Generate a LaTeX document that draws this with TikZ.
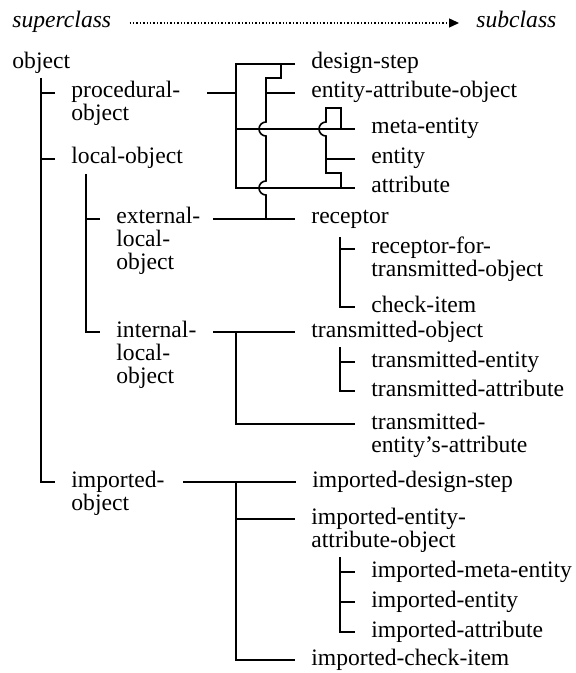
\documentclass[tikz,border=0pt]{standalone}
\usepackage{fontspec}
\setmainfont{Liberation Serif}
\usetikzlibrary{calc,arrows.meta}
\begin{document}
\begin{tikzpicture}[x=0.5pt,y=-0.5pt,
  lbl/.style={anchor=base west,inner sep=0pt,align=left,
              font=\fontsize{11.8}{11.5}\selectfont},
  ital/.style={lbl,font=\fontsize{11.8}{11.5}\selectfont\itshape},
  wire/.style={line width=0.8pt,line join=miter},
  hop/.style={start angle=90,end angle=270,radius=3.5pt}]
\useasboundingbox (0,0) rectangle (576,673);

% legend
\node[ital] (sup) at (12,28) {superclass};
\node[ital] (sub) at (476,28) {subclass};
\draw[line width=0.7pt,dash pattern=on 0.7pt off 1pt,
      -{Triangle[length=5pt,width=4.5pt]}]
  ($(sup.base east)+(18,-5)$) -- ($(sub.base west)+(-17,-5)$);

% left-hand classes (placed by the baseline of their last line)
\node[lbl] (obj)  at (12,69)   {object};
\node[lbl] (proc) at (71,121)  {procedural-\\object};
\node[lbl] (loc)  at (71,164)  {local-object};
\node[lbl] (ext)  at (116,270) {external-\\local-\\object};
\node[lbl] (int)  at (116,383) {internal-\\local-\\object};
\node[lbl] (imp)  at (71,510)  {imported-\\object};

% right-hand classes
\node[lbl] (ds)   at (311,69)  {design-step};
\node[lbl] (eao)  at (311,98)  {entity-attribute-object};
\node[lbl] (me)   at (371,134) {meta-entity};
\node[lbl] (ent)  at (371,164) {entity};
\node[lbl] (att)  at (371,193) {attribute};
\node[lbl] (rec)  at (311,224) {receptor};
\node[lbl] (rft)  at (371,277) {receptor-for-\\transmitted-object};
\node[lbl] (chk)  at (371,312) {check-item};
\node[lbl] (tob)  at (311,337) {transmitted-object};
\node[lbl] (ten)  at (371,367) {transmitted-entity};
\node[lbl] (tat)  at (371,396) {transmitted-attribute};
\node[lbl] (tea)  at (371,452) {transmitted-\\entity's-attribute};
\node[lbl] (ids)  at (312,487) {imported-design-step};
\node[lbl] (ieao) at (311,547) {imported-entity-\\attribute-object};
\node[lbl] (ime)  at (371,577) {imported-meta-entity};
\node[lbl] (ien)  at (371,607) {imported-entity};
\node[lbl] (iat)  at (371,637) {imported-attribute};
\node[lbl] (ici)  at (311,665) {imported-check-item};

% connection ports just left of each label's first line
% (\k = number of lines below the first one)
\foreach \n/\k in {proc/1,loc/0,ext/2,int/2,imp/1,ds/0,eao/0,me/0,ent/0,
                   att/0,rec/0,rft/1,chk/0,tob/0,ten/0,tat/0,tea/1,ids/0,
                   ieao/1,ime/0,ien/0,iat/0,ici/0}
  \coordinate (\n-p) at ($(\n.base west)+(-16,-5-23*\k)$);

% left tree
\draw[wire] ($(obj.base west)+(29,9)$) |- (imp-p);
\draw[wire] (proc-p) -- ++(-14,0);
\draw[wire] (loc-p) -- ++(-14,0);
\draw[wire] ($(loc.base west)+(15,10)$) |- (int-p);
\draw[wire] (ext-p) -- ++(-14,0);

% procedural-object branches
\draw[wire] ($(proc-p)+(152,0)$) -- (236,93);
\draw[wire] (ds-p) -- (236,64) -- (236,188) -- (att-p);
\draw[wire] (236,129) -- (me-p);

% external-local-object bus (hops over the crossing lines)
\draw[wire] (281,64) -- (281,78) -- (266,78) -- (266,122) arc[hop]
            -- (266,181) arc[hop] -- (266,219);
\draw[wire] (266,93) -- (eao-p);
\draw[wire] ($(ext-p)+(113,0)$) -- (rec-p);

% entity-attribute-object bus
\draw[wire] (341,129) -- (341,108) -- (326,108) -- (326,122) arc[hop]
            -- (326,173) -- (341,173) -- (341,188);
\draw[wire] (326,159) -- (ent-p);

% receptor subclasses
\draw[wire] (340,237) |- (chk-p);
\draw[wire] (340,249) -- (rft-p);

% internal-local-object branches
\draw[wire] ($(int-p)+(113,0)$) -- (tob-p);
\draw[wire] (236,332) |- (tea-p);
\draw[wire] (340,347) |- (tat-p);
\draw[wire] (340,362) -- (ten-p);

% imported-object branches
\draw[wire] ($(imp-p)+(128,0)$) -- (ids-p);
\draw[wire] (236,482) |- (ici-p);
\draw[wire] (236,519) -- (ieao-p);
\draw[wire] (340,557) |- (iat-p);
\draw[wire] (340,572) -- (ime-p);
\draw[wire] (340,602) -- (ien-p);
\end{tikzpicture}
\end{document}
